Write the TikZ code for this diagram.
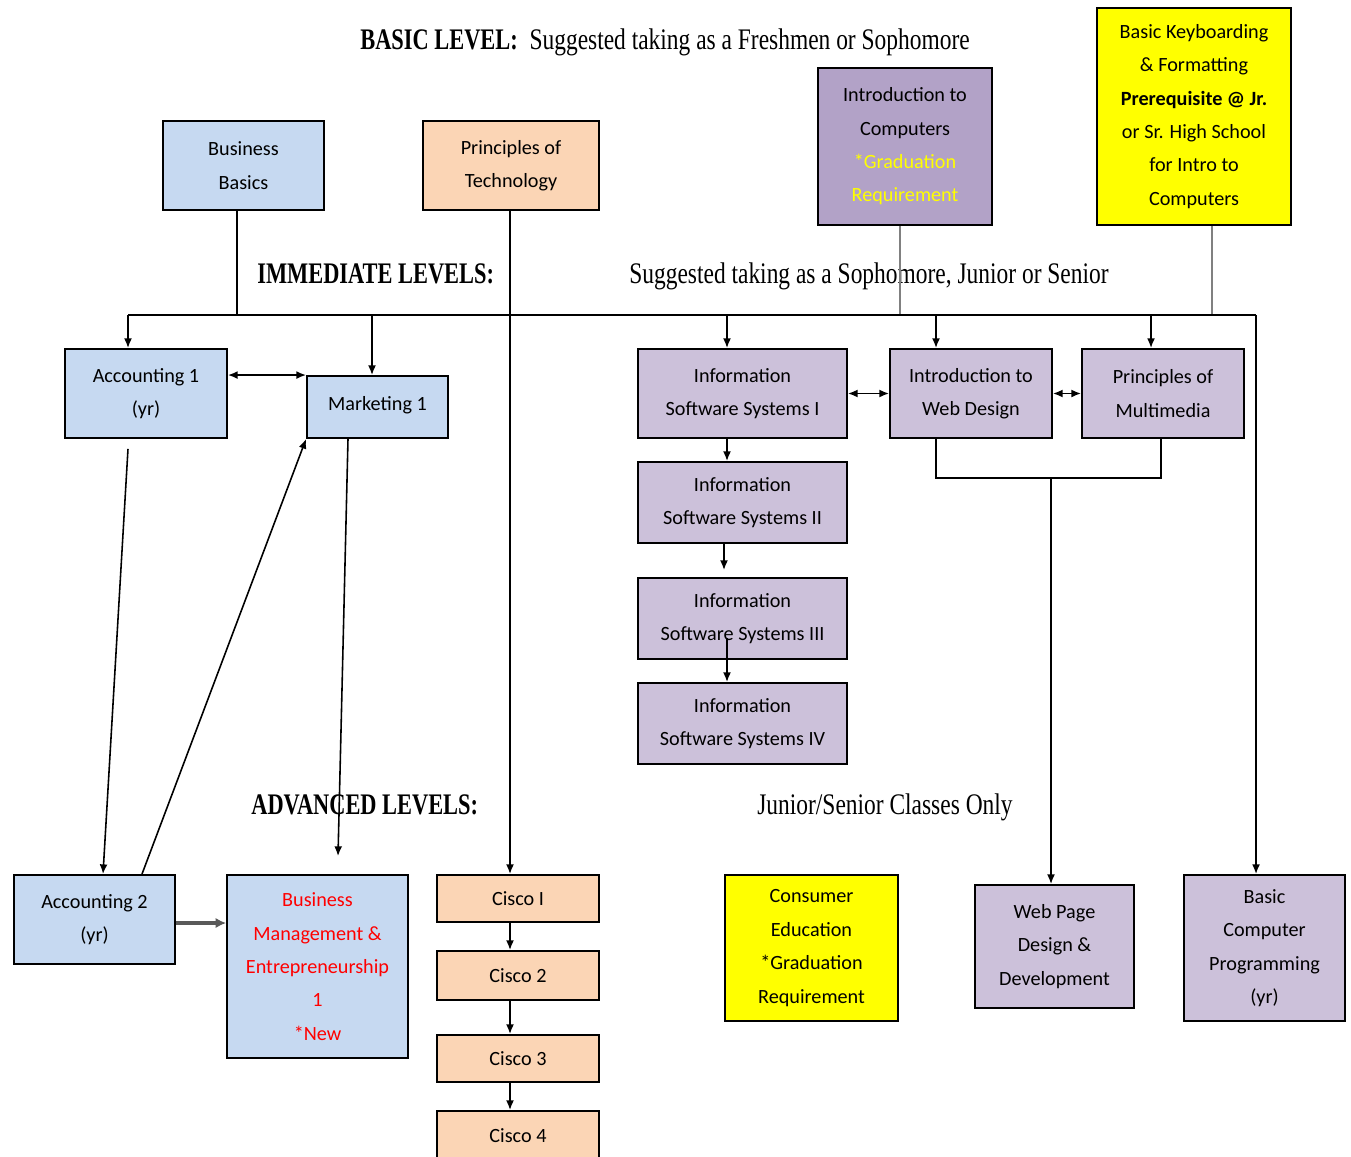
\documentclass[tikz,border=0pt]{standalone}
\usepackage{fontspec}
\setmainfont{Carlito}
\newfontfamily\headfont[FakeStretch=0.785]{Liberation Serif}
\newfontfamily\headbold[FakeStretch=0.75]{Liberation Serif Bold}
\usetikzlibrary{arrows.meta,calc}
\definecolor{boxblue}{RGB}{198,217,241}
\definecolor{boxpeach}{RGB}{251,213,181}
\definecolor{boxviolet}{RGB}{178,162,199}
\definecolor{boxlilac}{RGB}{204,193,218}
\definecolor{boxyellow}{RGB}{255,255,0}
\definecolor{newred}{RGB}{255,0,0}

\begin{document}
\begin{tikzpicture}[x=0.02cm,y=-0.02cm,
    >={Latex[length=5.5pt,width=4.5pt]},
    course/.style={draw,line width=1.1pt,inner sep=0pt,align=center,font=\fontsize{11.5}{19}\selectfont},
    head/.style={anchor=base west,inner sep=0pt,font=\headfont\fontsize{17}{20}\selectfont},
    link/.style={line width=0.9pt},
    feed/.style={line width=1.2pt,gray}]
    \useasboundingbox (0,0) rectangle (1351,1156);

    % basic level
    \node[course,fill=boxblue,minimum width=3.22cm,minimum height=1.78cm] (bb) at (243.5,165.5) {Business\\Basics};
    \node[course,fill=boxpeach,minimum width=3.52cm,minimum height=1.78cm] (pot) at (511,165.5) {Principles of\\Technology};
    \node[course,fill=boxviolet,minimum width=3.48cm,minimum height=3.14cm] (itc) at (905,146.5) {Introduction to\\Computers\\\textcolor{boxyellow}{*Graduation}\\\textcolor{boxyellow}{Requirement}};
    \node[course,fill=boxyellow,minimum width=3.88cm,minimum height=4.34cm] (kb) at (1194,116.5) {Basic Keyboarding\\\& Formatting\\\textbf{Prerequisite @ Jr.}\\or Sr. High School\\for Intro to\\Computers};

    % immediate levels
    \node[course,fill=boxblue,minimum width=3.24cm,minimum height=1.78cm] (acc1) at (146,393.5) {Accounting 1\\(yr)};
    \node[course,fill=boxblue,minimum width=2.82cm,minimum height=1.24cm] (mkt) at (377.5,407) {\raisebox{4pt}{Marketing 1}};
    \node[course,fill=boxlilac,minimum width=4.18cm,minimum height=1.78cm] (iss1) at (742.5,393.5) {Information\\Software Systems I};
    \node[course,fill=boxlilac,minimum width=3.24cm,minimum height=1.78cm] (web) at (971,393.5) {Introduction to\\Web Design};
    \node[course,fill=boxlilac,minimum width=3.24cm,minimum height=1.78cm] (mm) at (1163,393.5) {Principles of\\Multimedia};
    \node[course,fill=boxlilac,minimum width=4.18cm,minimum height=1.62cm] (iss2) at (742.5,502.5) {Information\\Software Systems II};
    \node[course,fill=boxlilac,minimum width=4.18cm,minimum height=1.62cm] (iss3) at (742.5,618.5) {Information\\Software Systems III};
    \node[course,fill=boxlilac,minimum width=4.18cm,minimum height=1.62cm] (iss4) at (742.5,723.5) {Information\\Software Systems IV};

    % advanced levels
    \node[course,fill=boxblue,minimum width=3.22cm,minimum height=1.78cm] (acc2) at (94.5,919.5) {Accounting 2\\(yr)};
    \node[course,fill=boxblue,minimum width=3.62cm,minimum height=3.66cm,text=newred] (bm) at (317.5,966.5) {Business\\Management \&\\Entrepreneurship\\1\\*New};
    \node[course,fill=boxpeach,minimum width=3.24cm,minimum height=0.94cm] (c1) at (518,898.5) {Cisco I};
    \node[course,fill=boxpeach,minimum width=3.24cm,minimum height=0.98cm] (c2) at (518,975.5) {Cisco 2};
    \node[course,fill=boxpeach,minimum width=3.24cm,minimum height=0.94cm] (c3) at (518,1058.5) {Cisco 3};
    \node[course,fill=boxpeach,minimum width=3.24cm,minimum height=0.98cm] (c4) at (518,1135.5) {Cisco 4};
    \node[course,fill=boxyellow,minimum width=3.46cm,minimum height=2.92cm] (ce) at (811.5,948) {Consumer\\Education\\*Graduation\\Requirement};
    \node[course,fill=boxlilac,minimum width=3.18cm,minimum height=2.46cm] (wpd) at (1054.5,946.5) {Web Page\\Design \&\\Development};
    \node[course,fill=boxlilac,minimum width=3.22cm,minimum height=2.92cm] (bcp) at (1264.5,948) {Basic\\Computer\\Programming\\(yr)};

    \node[head] (basic) at (360,49) {{\headbold BASIC LEVEL:}\ \ Suggested taking as a Freshmen or Sophomore};
    \node[head] (imm) at (257,283) {\headbold IMMEDIATE LEVELS:};
    \node[head] (soph) at (629,283) {Suggested taking as a Sophomore, Junior or Senior};
    \node[head] (adv) at (251,814) {\headbold ADVANCED LEVELS:};
    \node[head] (jrsr) at (757,814) {Junior/Senior Classes Only};

    % bus
    \coordinate (bus) at (0,315);
    \draw[feed] (itc.south -| 900,0) -- (bus -| 900,0);
    \draw[feed] (kb.south -| 1212,0) -- (bus -| 1212,0);
    \draw[link] (bb.south -| 237,0) -- (bus -| 237,0);
    \draw[link] (bus -| 128,0) -- (bus -| 1256,0);
    \foreach \n/\x in {acc1/128,mkt/372,iss1/727,web/936,mm/1151,bcp/1256}
    \draw[link,->] (bus -| \x,0) -- (\n.north -| \x,0);

    \draw[link,->] (pot.south -| 510,0) -- (c1.north -| 510,0);
    \foreach \a/\b in {c1/c2,c2/c3,c3/c4}
    \draw[link,->] (\a.south -| 510,0) -- (\b.north -| 510,0);

    \draw[link,<->] (acc1.east |- mkt.north) -- (mkt.north west);
    \draw[link,->] ($(acc1.south -| 128,0)+(0,10)$) -- (acc2.north -| 103,0);
    \draw[link,->] (acc2.north -| 142,0) -- (mkt.south west);
    \draw[link,->] (mkt.south -| 348,0) -- ($(bm.north -| 338,0)+(0,-18)$);
    \draw[line width=2.2pt,gray!70!black,-{Latex[length=6pt,width=6pt]}] (acc2.east |- 0,923) -- (bm.west |- 0,923);

    \draw[link,->] (iss1.south -| 727,0) -- (iss2.north -| 727,0);
    \draw[link,->] (iss2.south -| 724,0) -- ($(iss3.north -| 724,0)+(0,-7)$);
    \draw[link,->] ($(iss3.south -| 727,0)+(0,-22)$) -- (iss4.north -| 727,0);
    \draw[link,<->] (iss1.east) -- (web.west);
    \draw[link,<->] (web.east) -- (mm.west);

    \coordinate (join) at (1051,478);
    \draw[link] (web.south -| 936,0) |- (join) -| (mm.south -| 1161,0);
    \draw[link,->] (join) -- (wpd.north -| join);
\end{tikzpicture}
\end{document}
